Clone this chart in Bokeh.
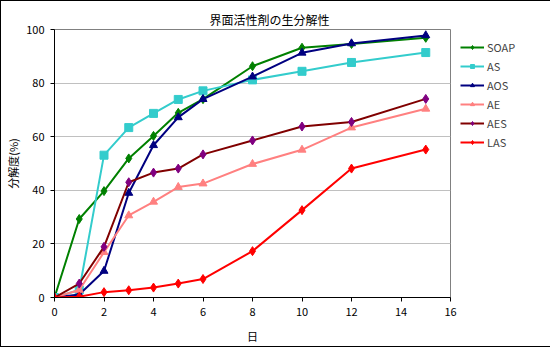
from bokeh.plotting import figure
from bokeh.models import Legend, LegendItem, Range1d, FixedTicker
from bokeh.embed import file_html
from bokeh.resources import INLINE

days = [0, 1, 2, 3, 4, 5, 6, 8, 10, 12, 15]
soap = [0, 29.3, 39.7, 51.9, 60.3, 68.9, 74.0, 86.3, 93.2, 94.6, 96.9]
as_ = [0, 2.8, 53.1, 63.4, 68.7, 73.9, 77.1, 81.2, 84.4, 87.7, 91.4]
aos = [0, 1.1, 9.9, 39.0, 56.8, 67.2, 74.0, 82.4, 91.3, 94.8, 97.8]
ae = [0, 2.8, 16.9, 30.6, 35.7, 41.2, 42.5, 49.8, 55.1, 63.4, 70.4]
aes = [0, 5.2, 18.9, 43.0, 46.6, 48.1, 53.4, 58.6, 63.8, 65.5, 74.1]
las = [0, 0.3, 2.0, 2.7, 3.7, 5.2, 6.9, 17.3, 32.6, 48.1, 55.2]

names = ["SOAP", "AS", "AOS", "AE", "AES", "LAS"]
series = [soap, as_, aos, ae, aes, las]
line_colors = ["#008000", "#33CCCC", "#000080", "#FF8080", "#800000", "#FF0000"]
marker_colors = ["#008000", "#33CCCC", "#000080", "#FF8080", "#800080", "#FF0000"]
markers = ["diamond", "square", "triangle", "triangle", "diamond", "diamond"]
marker_sizes = [9, 8, 8, 8, 9, 9]

title_text = "界面活性剤の生分解性"
x_label = "日"
y_label = "分解度(%)"
x_ticks = [0, 2, 4, 6, 8, 10, 12, 14, 16]
y_ticks = [0, 20, 40, 60, 80, 100]

FONT = "Noto Sans CJK JP"

p = figure(frame_width=396, frame_height=268, output_backend="svg", toolbar_location=None,
           x_range=Range1d(0, 16), y_range=Range1d(0, 100),
           min_border_left=53, min_border_right=10, min_border_top=28, min_border_bottom=47)
p.styles = {"border": "1px solid black", "box-sizing": "border-box"}
p.outline_line_color = "#808080"
p.outline_line_width = 1

p.title.text = title_text
p.title.align = "left"
p.title.offset = 155
p.title.text_font = FONT
p.title.text_font_size = "12px"
p.title.text_font_style = "normal"
p.title.text_color = "black"
p.title.standoff = 4

p.xgrid.grid_line_color = None
p.ygrid.grid_line_color = "#C0C0C0"
p.ygrid.ticker = FixedTicker(ticks=y_ticks)

for ax, ticks in ((p.xaxis, x_ticks), (p.yaxis, y_ticks)):
    ax.ticker = FixedTicker(ticks=ticks)
    ax.axis_line_color = "black"
    ax.axis_line_width = 1
    ax.major_tick_line_color = "black"
    ax.major_tick_out = 4
    ax.major_tick_in = 0
    ax.minor_tick_line_color = None
    ax.major_label_text_font = FONT
    ax.major_label_text_font_size = "11px"
    ax.major_label_text_color = "black"
    ax.axis_label_text_font = FONT
    ax.axis_label_text_font_style = "normal"
    ax.axis_label_text_font_size = "11px"
    ax.axis_label_text_color = "black"

p.xaxis.axis_label = x_label
p.yaxis.axis_label = y_label
p.xaxis.major_label_standoff = 6
p.yaxis.major_label_standoff = 6
p.xaxis.axis_label_standoff = 9
p.yaxis.axis_label_standoff = 2

items = []
for name, ys, lc, mc, mk, ms in zip(names, series, line_colors, marker_colors, markers, marker_sizes):
    r1 = p.line(days, ys, line_color=lc, line_width=2)
    r2 = p.scatter(days, ys, marker=mk, size=ms, fill_color=mc, line_color=mc)
    items.append(LegendItem(label=name, renderers=[r1, r2]))

legend = Legend(items=items, location="top_left", padding=0, margin=10, spacing=3,
                glyph_width=24, glyph_height=10, label_height=10, label_standoff=3,
                label_text_font=FONT, label_text_font_size="11px",
                border_line_color=None, background_fill_alpha=0)
p.add_layout(legend, "right")

open("out.html", "w").write(file_html(p, INLINE))
